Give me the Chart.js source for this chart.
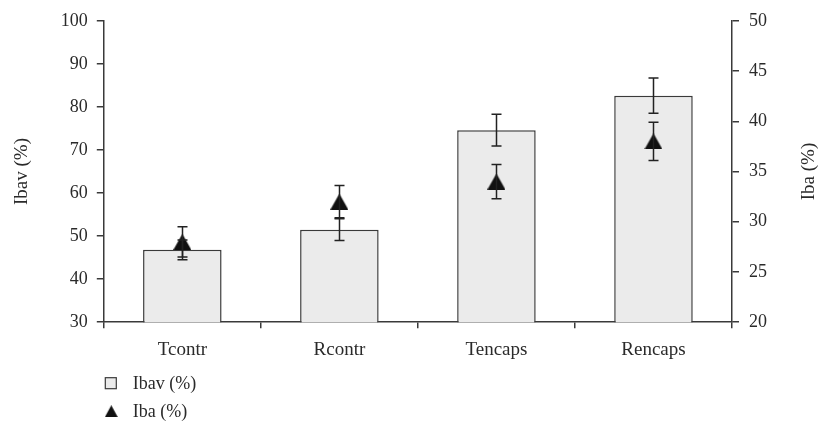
<!DOCTYPE html>
<html>
<head>
<meta charset="utf-8">
<script src="https://cdn.jsdelivr.net/npm/chart.js@4/dist/chart.umd.min.js"></script>
<style>
  html, body { margin: 0; padding: 0; background: #fff; }
  canvas { display: block; }
</style>
</head>
<body>
<canvas id="chart" width="822" height="430"></canvas>
<script>
// Groups along the x axis
const categories = ['Tcontr', 'Rcontr', 'Tencaps', 'Rencaps'];

// Ibav (%) — bars on the left axis, with their standard errors
const ibavValues = [46.8, 51.5, 74.6, 82.6];
const ibavErrors = [2.3, 2.5, 3.7, 4.1];

// Iba (%) — triangle markers on the right axis, with their standard errors
const ibaValues = [28, 32, 34, 38];
const ibaErrors = [1.5, 1.6, 1.7, 1.9];

// Axis ranges: [min, max, step]
const ibavAxis = [30, 100, 10];
const ibaAxis = [20, 50, 5];

const SERIF = '"Liberation Serif", "DejaVu Serif", serif';
const INK = '#2a2a2a';
const AXIS = '#3a3a3a';

// Filled triangle used as the marker (centred on its bounding box)
function triangleMarker(w, h, color) {
  const c = document.createElement('canvas');
  c.width = w; c.height = h;
  const g = c.getContext('2d');
  g.fillStyle = color;
  g.beginPath();
  g.moveTo(w / 2, 0);
  g.lineTo(w, h);
  g.lineTo(0, h);
  g.closePath();
  g.fill();
  return c;
}
const triangle = triangleMarker(18, 16, '#111');
const smallTriangle = triangleMarker(13, 12, '#111');

// Vertical error bars with caps, placed through each dataset's own y scale
const errorBars = {
  id: 'errorBars',
  afterDatasetsDraw(chart) {
    const ctx = chart.ctx;
    chart.data.datasets.forEach((ds, di) => {
      if (!ds.errors) return;
      const meta = chart.getDatasetMeta(di);
      const scale = chart.scales[meta.yAxisID];
      meta.data.forEach((el, i) => {
        const v = ds.data[i], e = ds.errors[i];
        const x = Math.round(el.x) + 0.5;
        const yTop = scale.getPixelForValue(v + e);
        const yBot = scale.getPixelForValue(v - e);
        ctx.save();
        ctx.strokeStyle = '#222';
        ctx.lineWidth = 1.5;
        ctx.beginPath();
        ctx.moveTo(x, yTop); ctx.lineTo(x, yBot);
        ctx.moveTo(x - 5, yTop); ctx.lineTo(x + 5, yTop);
        ctx.moveTo(x - 5, yBot); ctx.lineTo(x + 5, yBot);
        ctx.stroke();
        ctx.restore();
      });
    });
  }
};

// Right-axis title reading bottom-to-top, and the stacked legend underneath
const decorations = {
  id: 'decorations',
  afterDraw(chart) {
    const ctx = chart.ctx;
    const area = chart.chartArea;
    const right = chart.scales.y1;
    ctx.save();
    ctx.fillStyle = INK;
    ctx.font = '19px ' + SERIF;
    ctx.textAlign = 'center';
    ctx.textBaseline = 'middle';
    ctx.translate(809, (area.top + area.bottom) / 2);
    ctx.rotate(-Math.PI / 2);
    ctx.fillText(right.options.title.text, 0, 0);
    ctx.restore();

    const x0 = area.left;
    const rows = chart.data.datasets.map((ds, i) => ({ ds, y: area.bottom + 61 + i * 28 }));
    ctx.save();
    ctx.font = '18px ' + SERIF;
    ctx.textBaseline = 'middle';
    ctx.textAlign = 'left';
    rows.forEach(({ ds, y }) => {
      if (ds.type === 'bar') {
        ctx.fillStyle = ds.backgroundColor;
        ctx.strokeStyle = ds.borderColor;
        ctx.lineWidth = 1.2;
        ctx.fillRect(x0 + 1.5, y - 5.5, 11, 11);
        ctx.strokeRect(x0 + 1.5, y - 5.5, 11, 11);
      } else {
        ctx.drawImage(smallTriangle, x0 + 1, y - 6);
      }
      ctx.fillStyle = INK;
      ctx.fillText(ds.label, x0 + 29, y + 1);
    });
    ctx.restore();
  }
};

new Chart(document.getElementById('chart'), {
  data: {
    labels: categories,
    datasets: [
      {
        type: 'bar',
        label: 'Ibav (%)',
        data: ibavValues,
        errors: ibavErrors,
        yAxisID: 'y',
        backgroundColor: '#ebebeb',
        borderColor: '#3a3a3a',
        borderWidth: 1.5,
        categoryPercentage: 1,
        barPercentage: 0.5,
        order: 1
      },
      {
        type: 'line',
        label: 'Iba (%)',
        data: ibaValues,
        errors: ibaErrors,
        yAxisID: 'y1',
        showLine: false,
        pointStyle: triangle,
        pointRadius: 9,
        pointHoverRadius: 9,
        order: 0
      }
    ]
  },
  options: {
    responsive: false,
    animation: false,
    events: [],
    layout: { padding: { top: 20, right: 45, bottom: 59, left: 0 } },
    plugins: {
      legend: { display: false },
      tooltip: { enabled: false }
    },
    scales: {
      x: {
        offset: true,
        grid: { offset: true, drawOnChartArea: false, drawTicks: true, tickLength: 6, color: AXIS, lineWidth: 1.5 },
        border: { display: true, color: AXIS, width: 1.5 },
        ticks: { color: INK, font: { family: SERIF, size: 19 }, padding: 10, maxRotation: 0 }
      },
      y: {
        position: 'left',
        min: ibavAxis[0], max: ibavAxis[1],
        grid: { drawOnChartArea: false, drawTicks: true, tickLength: 7, color: AXIS, lineWidth: 1.5 },
        border: { display: true, color: AXIS, width: 1.5 },
        ticks: { stepSize: ibavAxis[2], color: INK, font: { family: SERIF, size: 18 }, padding: 9 },
        title: { display: true, text: 'Ibav (%)', color: INK, font: { family: SERIF, size: 19 }, padding: { top: 11, bottom: 18 } }
      },
      y1: {
        position: 'right',
        min: ibaAxis[0], max: ibaAxis[1],
        grid: { drawOnChartArea: false, drawTicks: true, tickLength: 7, color: AXIS, lineWidth: 1.5 },
        border: { display: true, color: AXIS, width: 1.5 },
        ticks: { stepSize: ibaAxis[2], color: INK, font: { family: SERIF, size: 18 }, padding: 10 },
        title: { display: false, text: 'Iba (%)' }
      }
    }
  },
  plugins: [errorBars, decorations]
});
</script>
</body>
</html>
